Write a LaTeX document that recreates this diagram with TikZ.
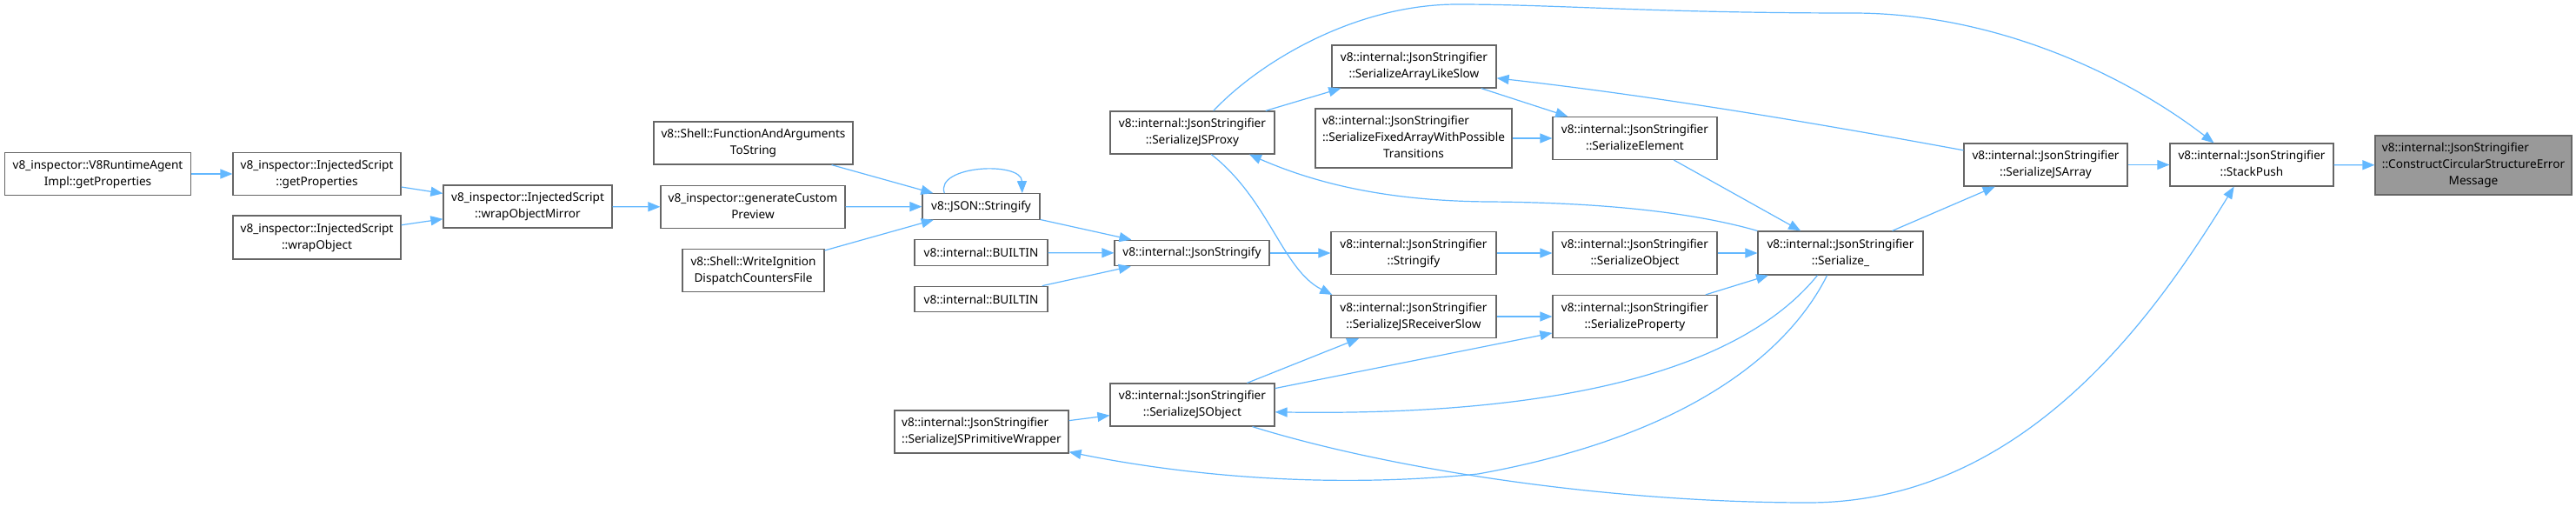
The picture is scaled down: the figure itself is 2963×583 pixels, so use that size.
\documentclass[tikz,border=0pt]{standalone}
\usepackage{fontspec}
\setmainfont{Noto Sans}
\usepackage{tikz}
\usetikzlibrary{arrows.meta}

\definecolor{edgeblue}{HTML}{63B8FF}
\definecolor{boxline}{HTML}{666666}
\definecolor{hilite}{HTML}{999999}
\newcommand{\fnfont}{\fontsize{6.8}{9.5}\selectfont}
\newcommand{\twoline}[2]{\begin{tabular}{@{}l@{}}#1\\\multicolumn{1}{@{}c@{}}{#2}\end{tabular}}
\newcommand{\threeline}[3]{\begin{tabular}{@{}l@{}}#1\\#2\\\multicolumn{1}{@{}c@{}}{#3}\end{tabular}}

\begin{document}
\begin{tikzpicture}[x=0.5pt, y=-0.5pt,
  fn/.style={draw=boxline, fill=white, line width=0.6pt, font=\fnfont, inner sep=0pt, minimum height=24.5pt},
  fnone/.style={fn, minimum height=14.75pt},
  fnthree/.style={fn, minimum height=34pt},
  call/.style={draw=edgeblue, line width=0.6pt, -{Triangle[length=7pt,width=5.5pt]}}]
  \useasboundingbox[fill=white] (0,0) rectangle (2963,583);
  \node[fn, minimum width=107pt] (agent) at (112.5,200) {\twoline{v8\_inspector::V8RuntimeAgent}{Impl::getProperties}};
  \node[fn, minimum width=96.5pt] (getprops) at (364.5,200) {\twoline{v8\_inspector::InjectedScript}{::getProperties}};
  \node[fn, minimum width=96.5pt, minimum height=25pt] (wrapobj) at (364.5,273) {\twoline{v8\_inspector::InjectedScript}{::wrapObject}};
  \node[fn, minimum width=97pt] (mirror) at (607,237.5) {\twoline{v8\_inspector::InjectedScript}{::wrapObjectMirror}};
  \node[fn, minimum width=114.5pt] (funcargs) at (866.5,164.5) {\twoline{v8::Shell::FunctionAndArguments}{ToString}};
  \node[fn, minimum width=106pt] (preview) at (866,238) {\twoline{v8\_inspector::generateCustom}{Preview}};
  \node[fn, minimum width=81.5pt] (ignition) at (866.5,311) {\twoline{v8::Shell::WriteIgnition}{DispatchCountersFile}};
  \node[fnone, minimum width=67.5pt] (jsonstr) at (1128.5,237.5) {v8::JSON::Stringify};
  \node[fnone, minimum width=76.5pt] (builtina) at (1128.5,290.5) {v8::internal::BUILTIN};
  \node[fnone, minimum width=76.5pt] (builtinb) at (1128.5,344) {v8::internal::BUILTIN};
  \node[fnone, minimum width=89pt] (jsonify) at (1371,291) {v8::internal::JsonStringify};
  \node[fn, minimum width=94.5pt] (proxy) at (1371.5,152.5) {\twoline{v8::internal::JsonStringifier}{::SerializeJSProxy}};
  \node[fn, minimum width=94.5pt] (arraylike) at (1626.5,76.5) {\twoline{v8::internal::JsonStringifier}{::SerializeArrayLikeSlow}};
  \node[fnthree, minimum width=113pt] (fixedarray) at (1626,159) {\threeline{v8::internal::JsonStringifier}{::SerializeFixedArrayWithPossible}{Transitions}};
  \node[fn, minimum width=94.5pt] (element) at (1880.5,159) {\twoline{v8::internal::JsonStringifier}{::SerializeElement}};
  \node[fn, minimum width=95pt] (stringify) at (1626,291) {\twoline{v8::internal::JsonStringifier}{::Stringify}};
  \node[fn, minimum width=94.5pt] (object) at (1880.5,291) {\twoline{v8::internal::JsonStringifier}{::SerializeObject}};
  \node[fn, minimum width=95pt] (receiver) at (1626,364) {\twoline{v8::internal::JsonStringifier}{::SerializeJSReceiverSlow}};
  \node[fn, minimum width=94.5pt] (property) at (1880.5,364) {\twoline{v8::internal::JsonStringifier}{::SerializeProperty}};
  \node[fn, minimum width=95pt, minimum height=25pt] (serialize) at (2117,291) {\twoline{v8::internal::JsonStringifier}{::Serialize\_}};
  \node[fn, minimum width=94pt] (jsarray) at (2353,189.5) {\twoline{v8::internal::JsonStringifier}{::SerializeJSArray}};
  \node[fn, minimum width=94pt] (stackpush) at (2590,189.5) {\twoline{v8::internal::JsonStringifier}{::StackPush}};
  \node[fnthree, fill=hilite, minimum width=113pt] (circular) at (2845,190) {\threeline{v8::internal::JsonStringifier}{::ConstructCircularStructureError}{Message}};
  \node[fn, minimum width=94.5pt] (jsobject) at (1371.5,465.5) {\twoline{v8::internal::JsonStringifier}{::SerializeJSObject}};
  \node[fn, minimum width=100pt] (primwrap) at (1129,496.5) {\twoline{v8::internal::JsonStringifier}{::SerializeJSPrimitiveWrapper}};

  \draw[call] (agent) -- (getprops);
  \draw[call] (getprops) -- (mirror);
  \draw[call] (wrapobj) -- (mirror);
  \draw[call] (mirror) -- (preview);
  \draw[call] (funcargs) -- (jsonstr);
  \draw[call] (preview) -- (jsonstr);
  \draw[call] (ignition) -- (jsonstr);
  \draw[call] (jsonstr.160) .. controls (1075,190) and (1175,185) .. (jsonstr.18);
  \draw[call] (jsonstr) -- (jsonify);
  \draw[call] (builtina) -- (jsonify);
  \draw[call] (builtinb) -- (jsonify);
  \draw[call] (jsonify) -- (stringify);
  \draw[call] (stringify) -- (object);
  \draw[call] (object) -- (serialize);
  \draw[call] (fixedarray) -- (element);
  \draw[call] (arraylike) -- (element);
  \draw[call] (element) -- (serialize);
  \draw[call] (receiver) -- (property);
  \draw[call] (property) -- (serialize);
  \draw[call] (serialize) -- (jsarray);
  \draw[call] (jsarray) -- (stackpush);
  \draw[call] (stackpush) -- (circular);
  \draw[call] (proxy) -- (arraylike);
  \draw[call] (proxy.-49) .. controls (1460,230) and (1475,310) .. (receiver.165);
  \draw[call] (proxy.46) .. controls (1450,70) and (1560,5) .. (1676,5) .. controls (1790,5) and (1900,15) .. (2131,15) .. controls (2300,15) and (2450,90) .. (stackpush.150);
  \draw[call] (jsarray.170) .. controls (2080,140) and (1900,110) .. (arraylike.-8);
  \draw[call] (serialize.165) .. controls (1950,245) and (1850,233) .. (1712,232) .. controls (1580,231) and (1500,205) .. (proxy.-21);
  \draw[call] (serialize.-136) .. controls (1990,440) and (1750,478) .. (jsobject.-5);
  \draw[call] (serialize.-121) .. controls (2060,400) and (1950,500) .. (1700,545) .. controls (1500,565) and (1330,540) .. (primwrap.-13);
  \draw[call] (jsobject) -- (receiver);
  \draw[call] (jsobject) -- (property);
  \draw[call] (primwrap) -- (jsobject);
  \draw[call] (jsobject.-20) .. controls (1600,540) and (1850,578) .. (2080,578) .. controls (2330,578) and (2480,360) .. (stackpush.-129);
\end{tikzpicture}
\end{document}
